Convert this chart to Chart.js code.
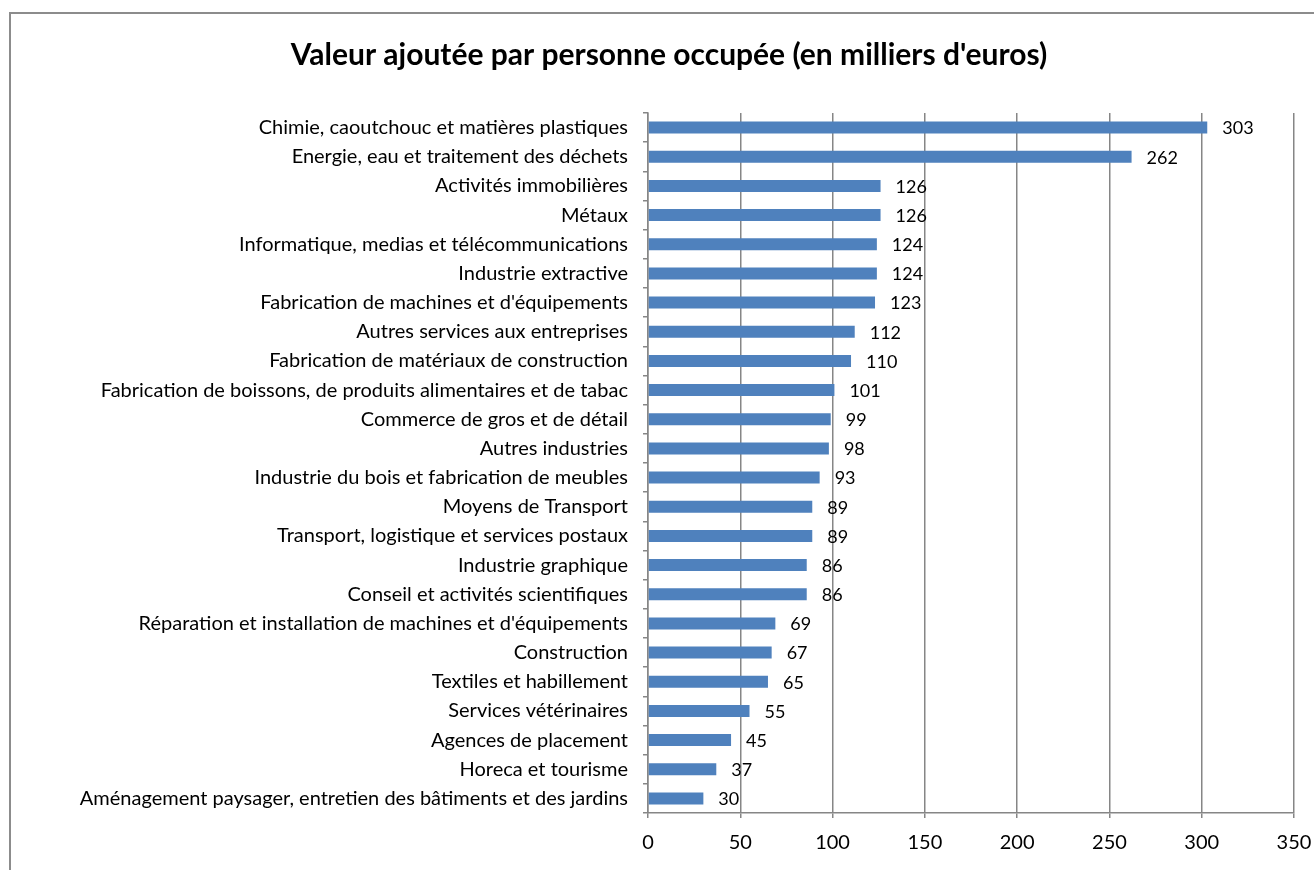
<!DOCTYPE html>
<html>
<head>
<meta charset="utf-8">
<script src="https://cdn.jsdelivr.net/npm/chart.js@4"></script>
<style>
  html, body { margin: 0; padding: 0; background: #fff; }
  #wrap { position: relative; width: 1314px; height: 870px; overflow: hidden; }
  #frame { position: absolute; left: 9px; top: 12px; width: 1400px; height: 1000px;
           border-left: 2px solid #8c8c8c; border-top: 2px solid #8c8c8c; box-sizing: border-box; }
  canvas { position: absolute; left: 0; top: 0; }
</style>
</head>
<body>
<div id="wrap">
  <div id="frame"></div>
  <canvas id="c" width="1314" height="870"></canvas>
</div>
<script>
const categories = [
  "Chimie, caoutchouc et matières plastiques",
  "Energie, eau et traitement des déchets",
  "Activités immobilières",
  "Métaux",
  "Informatique, medias et télécommunications",
  "Industrie extractive",
  "Fabrication de machines et d'équipements",
  "Autres services aux entreprises",
  "Fabrication de matériaux de construction",
  "Fabrication de boissons, de produits alimentaires et de tabac",
  "Commerce de gros et de détail",
  "Autres industries",
  "Industrie du bois et fabrication de meubles",
  "Moyens de Transport",
  "Transport, logistique et services postaux",
  "Industrie graphique",
  "Conseil et activités scientifiques",
  "Réparation et installation de machines et d'équipements",
  "Construction",
  "Textiles et habillement",
  "Services vétérinaires",
  "Agences de placement",
  "Horeca et tourisme",
  "Aménagement paysager, entretien des bâtiments et des jardins"
];
const values = [303, 262, 126, 126, 124, 124, 123, 112, 110, 101, 99, 98, 93, 89, 89, 86, 86, 69, 67, 65, 55, 45, 37, 30];
const xTicks = [0, 50, 100, 150, 200, 250, 300, 350];
const titleText = "Valeur ajoutée par personne occupée (en milliers d'euros)";

const FONT = "Lato, 'Open Sans', sans-serif";

const valueLabels = {
  id: 'valueLabels',
  afterDatasetsDraw(chart) {
    const ctx = chart.ctx;
    const meta = chart.getDatasetMeta(0);
    ctx.save();
    ctx.font = "18px " + FONT;
    ctx.fillStyle = "#000";
    ctx.textAlign = "left";
    ctx.textBaseline = "middle";
    meta.data.forEach((bar, i) => {
      ctx.fillText(String(values[i]), bar.x + 15, bar.y + 1);
    });
    ctx.restore();
  }
};

new Chart(document.getElementById('c'), {
  type: 'bar',
  data: {
    labels: categories,
    datasets: [{
      data: values,
      backgroundColor: '#4F81BD',
      borderWidth: 0,
      barPercentage: 0.41,
      categoryPercentage: 1.0
    }]
  },
  options: {
    indexAxis: 'y',
    responsive: false,
    animation: false,
    devicePixelRatio: 1,
    layout: { padding: { left: 44, right: 20, top: 0, bottom: 17 } },
    plugins: {
      legend: { display: false },
      tooltip: { enabled: false },
      title: {
        display: true,
        text: titleText,
        color: '#000',
        font: { family: FONT, size: 30, weight: 'bold', lineHeight: 1.2 },
        padding: { top: 37, bottom: 40 }
      }
    },
    scales: {
      x: {
        type: 'linear',
        min: 0,
        max: 350,
        afterBuildTicks(scale) { scale.ticks = xTicks.map(v => ({ value: v })); },
        afterFit(scale) { scale.height = 40; scale.paddingLeft = 0; scale.paddingRight = 0; },
        ticks: { color: '#000', font: { family: FONT, size: 20 }, padding: 13 },
        grid: { color: '#868686', lineWidth: 1.5, tickLength: 5, drawTicks: true },
        border: { color: '#868686', width: 1.5 }
      },
      y: {
        afterFit(scale) { scale.width = 648 - 44; scale.paddingTop = 0; scale.paddingBottom = 0; },
        ticks: { color: '#000', font: { family: FONT, size: 20 }, padding: 15, autoSkip: false },
        grid: { drawOnChartArea: false, drawTicks: true, tickLength: 5, offset: true, color: '#868686', lineWidth: 1.5 },
        border: { color: '#868686', width: 1.5 }
      }
    }
  },
  plugins: [valueLabels]
});
</script>
</body>
</html>
